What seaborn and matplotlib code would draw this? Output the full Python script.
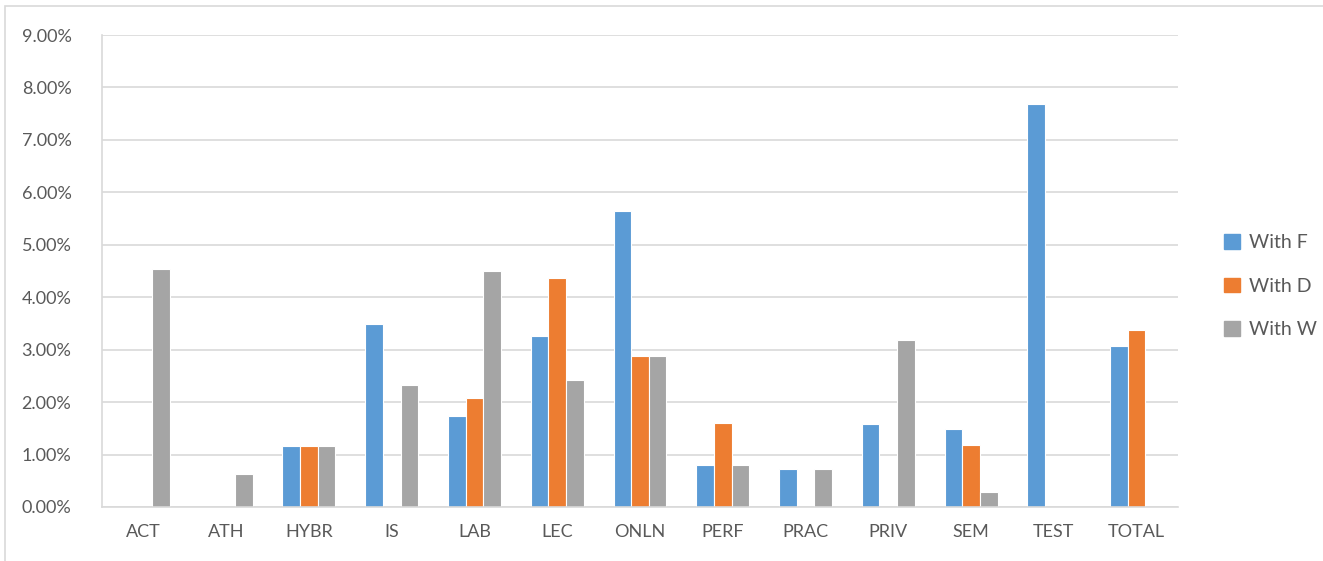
import matplotlib

matplotlib.use("Agg")
import matplotlib.pyplot as plt
import matplotlib.patches as mpatches
import numpy as np
import pandas as pd
import seaborn as sns
from matplotlib.ticker import FuncFormatter, MultipleLocator

sns.set_theme(style="white")
plt.rcParams["font.family"] = ["Lato", "DejaVu Sans"]

CATEGORIES = ["ACT", "ATH", "HYBR", "IS", "LAB", "LEC", "ONLN",
              "PERF", "PRAC", "PRIV", "SEM", "TEST", "TOTAL"]
SERIES = ["With F", "With D", "With W"]
nan = np.nan
WITH_F = [nan, nan, 1.16, 3.48, 1.73, 3.26, 5.65, 0.80, 0.73, 1.58, 1.48, 7.69, 3.07]
WITH_D = [nan, nan, 1.16, nan, 2.07, 4.37, 2.88, 1.60, nan, nan, 1.19, nan, 3.37]
WITH_W = [4.54, 0.62, 1.16, 2.32, 4.50, 2.42, 2.88, 0.80, 0.73, 3.18, 0.29, nan, nan]
COLORS = ["#5b9bd5", "#ed7d31", "#a5a5a5"]
TEXT = "#595959"
GRID = "#d9d9d9"

df = pd.DataFrame({
    "category": CATEGORIES * 3,
    "series": [s for s in SERIES for _ in CATEGORIES],
    "value": WITH_F + WITH_D + WITH_W,
})

fig = plt.figure(figsize=(13.23, 5.61), dpi=100)
ax = fig.add_axes([0.0771, 0.0963, 0.8133, 0.8413])

sns.barplot(data=df, x="category", y="value", hue="series", order=CATEGORIES,
            hue_order=SERIES, palette=COLORS, saturation=1, width=0.64, gap=0,
            edgecolor="white", linewidth=0.8, ax=ax, legend=False)

ax.set_ylim(0, 9)
ax.set_xlim(-0.5, len(CATEGORIES) - 0.5)
ax.yaxis.set_major_locator(MultipleLocator(1))
ax.yaxis.set_major_formatter(FuncFormatter(lambda v, p: f"{v:.2f}%"))
ax.grid(axis="y", color=GRID, linewidth=1.2)
ax.set_axisbelow(True)
for side in ["top", "right"]:
    ax.spines[side].set_visible(False)
for side in ["left", "bottom"]:
    ax.spines[side].set_color(GRID)
    ax.spines[side].set_linewidth(1.2)
ax.tick_params(axis="both", length=0, colors=TEXT, labelsize=13)
ax.tick_params(axis="y", pad=22)
ax.tick_params(axis="x", pad=12)
ax.set_xlabel("")
ax.set_ylabel("")

handles = [mpatches.Patch(color=c, label=s) for c, s in zip(COLORS, SERIES)]
leg = fig.legend(handles=handles, loc="center left", bbox_to_anchor=(0.912, 0.49),
                 frameon=False, fontsize=14, labelspacing=1.35, handlelength=0.8,
                 handleheight=0.8, handletextpad=0.5)
for t in leg.get_texts():
    t.set_color(TEXT)

fig.patches.append(mpatches.Rectangle((0.004, -0.01), 1.0, 1.0, transform=fig.transFigure,
                                      fill=False, edgecolor=GRID, linewidth=1.2))

fig.savefig("out.png", dpi=100)
